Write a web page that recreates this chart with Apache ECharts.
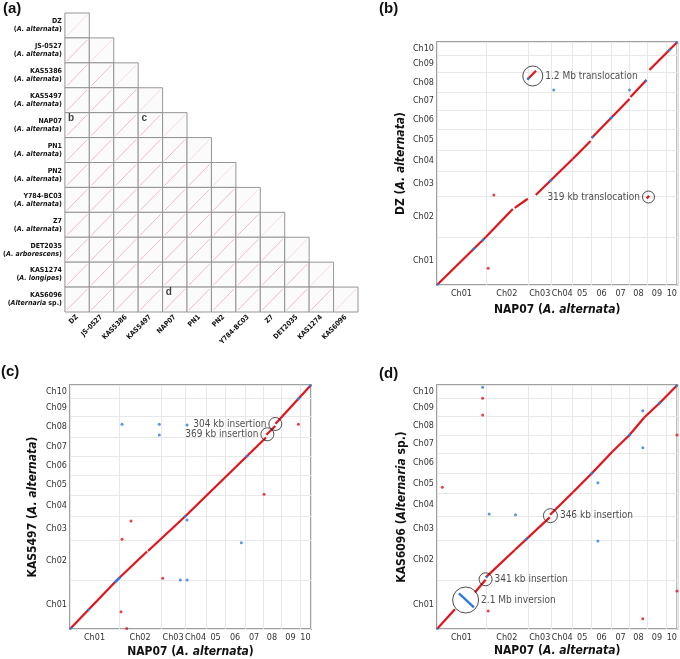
<!DOCTYPE html>
<html lang="en">
<head>
    <meta charset="utf-8">
    <title>Dotplots NAP07</title>
    <script src="https://cdn.jsdelivr.net/npm/echarts@6/dist/echarts.min.js"></script>
    <style>
        html, body { margin: 0; padding: 0; background: #fff; }
        #main { width: 680px; height: 659px; }
    </style>
</head>
<body>
<div id="main"></div>
<script type="text/javascript">
    var FONT = "'Liberation Sans Narrow','Arial Narrow','DejaVu Sans Condensed','Liberation Sans',sans-serif";
    var FONT_T = "'Liberation Sans',Arial,sans-serif";

    // ---- panel (a): all-vs-all grid ----
    var strains = ['DZ', 'JS-0527', 'KAS5386', 'KAS5497', 'NAP07', 'PN1', 'PN2', 'Y784-BC03', 'Z7', 'DET2035', 'KAS1274', 'KAS6096'];
    var species = ['A. alternata', 'A. alternata', 'A. alternata', 'A. alternata', 'A. alternata', 'A. alternata',
        'A. alternata', 'A. alternata', 'A. alternata', 'A. arborescens', 'A. longipes', 'Alternaria sp.'];
    var panelLetters = [['DZ', 'NAP07', 'b'], ['KAS5497', 'NAP07', 'c'], ['NAP07', 'KAS6096', 'd']];

    // ---- chromosome sizes (Mb) ----
    var chrLabels = ['Ch01', 'Ch02', 'Ch03', 'Ch04', 'Ch05', 'Ch06', 'Ch07', 'Ch08', 'Ch09', 'Ch10'];
    var nap07Labels = ['Ch01', 'Ch02', 'Ch03', 'Ch04', '05', '06', '07', '08', '09', '10'];
    var nap07Size = [6.76, 5.80, 3.31, 2.90, 2.62, 2.76, 2.48, 2.48, 2.62, 1.52];
    var dzSize = [6.62, 5.66, 3.38, 2.97, 2.90, 2.62, 2.48, 2.67, 2.44, 1.79];
    var kas5497Size = [6.76, 5.43, 3.31, 3.00, 2.75, 2.53, 2.67, 2.84, 2.54, 1.84];
    var kas6096Size = [6.76, 5.52, 3.22, 3.23, 2.76, 2.80, 2.48, 2.53, 2.54, 1.83];

    // axis titles: [plain, italic, plain]
    var nap07Name = ['NAP07 (', 'A. alternata', ')'];
    var dzName = ['DZ (', 'A. alternata', ')'];
    var kas5497Name = ['KAS5497 (', 'A. alternata', ')'];
    var kas6096Name = ['KAS6096 (', 'Alternaria', ' sp.)'];

    // ---- panel (b): DZ vs NAP07, segments [x1, y1, x2, y2] in Mb ----
    var bRed = [
        [0, 0, 6.76, 6.62], [6.76, 6.62, 10.49, 10.49], [10.76, 10.63, 12.56, 11.90],
        [13.66, 12.42, 18.77, 17.39], [18.77, 17.39, 21.25, 19.87], [21.39, 20.29, 26.63, 25.67],
        [26.77, 25.94, 28.98, 28.29], [29.39, 29.67, 33.25, 33.53],
        [12.50, 28.35, 13.70, 29.55], [29.00, 11.95, 29.35, 12.30]
    ];
    var bBlue = [
        [0, 0, 0.2, 0.2], [4.95, 4.84, 5.25, 5.14], [6.2, 6.07, 6.5, 6.37], [15.55, 14.26, 15.85, 14.55],
        [21.39, 20.29, 21.6, 20.5], [23.95, 22.92, 24.25, 23.23], [28.8, 28.1, 28.98, 28.29],
        [32.05, 32.33, 32.3, 32.58], [33.1, 33.38, 33.25, 33.53], [12.5, 28.35, 12.75, 28.6]
    ];
    var bRedDots = [[7.87, 12.42], [7.08, 2.30]];
    var bBlueDots = [[16.15, 26.91], [26.63, 26.91]];
    var bNotes = [[13.25, 28.84, '1.2 Mb translocation'], [29.26, 12.14, '319 kb translocation']];

    // ---- panel (c): KAS5497 vs NAP07 ----
    var cRed = [
        [0, 0, 6.49, 6.76], [6.49, 6.76, 10.63, 10.70], [10.76, 10.76, 15.87, 15.53],
        [15.87, 15.53, 27.05, 26.43], [27.09, 26.80, 28.33, 28.01], [28.36, 28.32, 33.25, 33.67]
    ];
    var cBlue = [
        [0, 0, 0.2, 0.2], [2.45, 2.55, 2.65, 2.76], [6.2, 6.45, 6.95, 7.15], [15.75, 15.42, 16.0, 15.66],
        [24.3, 23.75, 24.55, 24.0], [31.4, 31.65, 31.65, 31.92], [33.05, 33.45, 33.25, 33.67]
    ];
    var cRedDots = [[31.51, 28.25], [26.77, 18.59], [8.42, 14.90], [7.18, 12.38], [12.79, 7.0], [7.04, 2.39], [7.82, 0.08]];
    var cBlueDots = [[7.18, 28.25], [12.32, 28.25], [16.15, 28.15], [12.32, 26.77], [16.15, 15.04],
        [23.64, 11.91], [15.22, 6.76], [16.15, 6.76]];
    var cNotes = [[28.33, 28.29, '304 kb insertion'], [27.23, 26.87, '369 kb insertion']];

    // ---- panel (d): KAS6096 vs NAP07 ----
    var dRed = [
        [0, 0, 2.48, 2.72], [5.24, 5.04, 6.72, 6.79], [6.75, 7.13, 10.76, 10.90], [10.76, 10.90, 15.59, 15.41],
        [15.64, 15.77, 18.81, 18.86], [18.81, 18.86, 21.43, 21.49], [21.43, 21.49, 24.25, 24.47],
        [24.25, 24.47, 26.63, 26.77], [26.63, 26.77, 28.70, 29.21], [28.70, 29.21, 30.77, 31.15],
        [30.77, 31.15, 33.25, 33.67]
    ];
    var dBlue = [
        [3.04, 4.93, 5.11, 2.99], [0, 0, 0.15, 0.16], [12.25, 12.28, 12.5, 12.53], [6.8, 7.15, 6.95, 7.32],
        [21.3, 21.36, 21.55, 21.61], [26.5, 26.63, 26.75, 26.9], [30.65, 31.03, 30.9, 31.3], [33.05, 33.45, 33.25, 33.67]
    ];
    var dRedDots = [[6.31, 31.84], [6.31, 29.53], [33.2, 26.77], [0.73, 19.55], [33.2, 5.24], [7.08, 2.48], [28.47, 1.42]];
    var dBlueDots = [[6.31, 33.36], [28.47, 30.13], [28.47, 25.02], [22.26, 20.19], [7.22, 15.87], [10.86, 15.77], [22.26, 12.14]];
    var dNotes = [[15.69, 15.64, '346 kb insertion'], [6.72, 6.86, '341 kb insertion'], [3.96, 4.0, '2.1 Mb inversion']];

    var RED = '#e0141a', BLUE = '#2d7be0';

    function richName(parts, size) {
        return {
            text: '{b|' + parts[0] + '}{i|' + parts[1] + '}{b|' + parts[2] + '}',
            style: {
                rich: {
                    b: {fontWeight: 'bold', fontSize: size, fontFamily: FONT, color: '#111'},
                    i: {fontWeight: 'bold', fontStyle: 'italic', fontSize: size, fontFamily: FONT, color: '#111'}
                }
            }
        };
    }

    function chromAxis(gridIndex, sizes, labels, nameParts, isY, gap) {
        var edges = [0], mids = [];
        for (var i = 0; i < sizes.length; i++) {
            mids.push(edges[i] + sizes[i] / 2);
            edges.push(+(edges[i] + sizes[i]).toFixed(3));
        }
        var nm = richName(nameParts, 12);
        return {
            type: 'value', gridIndex: gridIndex, min: 0, max: edges[edges.length - 1],
            name: nm.text, nameLocation: 'middle', nameGap: gap, nameRotate: isY ? 90 : 0,
            nameTextStyle: nm.style,
            axisLine: {show: false},
            axisTick: {show: false, customValues: edges},
            axisLabel: {
                customValues: mids, fontSize: 9, color: '#333', fontFamily: FONT, margin: isY ? 3 : 4,
                formatter: function (v) {
                    var best = 0;
                    for (var k = 1; k < mids.length; k++) {
                        if (Math.abs(mids[k] - v) < Math.abs(mids[best] - v)) best = k;
                    }
                    return labels[best];
                }
            },
            splitLine: {show: true, lineStyle: {color: '#e8e8e8', width: 1}}
        };
    }

    function panelSeries(k, red, blue, redDots, blueDots, notes, sizes, sides) {
        function segs(list) {
            return list.map(function (s) { return {coords: [[s[0], s[1]], [s[2], s[3]]]}; });
        }
        return [
            {type: 'lines', coordinateSystem: 'cartesian2d', xAxisIndex: k, yAxisIndex: k, silent: true, z: 3,
                data: segs(red), lineStyle: {color: RED, width: 2.2, opacity: 1}},
            {type: 'lines', coordinateSystem: 'cartesian2d', xAxisIndex: k, yAxisIndex: k, silent: true, z: 4,
                data: segs(blue), lineStyle: {color: BLUE, width: 2.4, opacity: 1}},
            {type: 'scatter', xAxisIndex: k, yAxisIndex: k, symbolSize: 3, z: 4, silent: true,
                itemStyle: {color: RED}, data: redDots},
            {type: 'scatter', xAxisIndex: k, yAxisIndex: k, symbolSize: 3, z: 4, silent: true,
                itemStyle: {color: BLUE}, data: blueDots},
            {type: 'scatter', xAxisIndex: k, yAxisIndex: k, z: 5, silent: true,
                itemStyle: {color: 'rgba(255,255,255,0)', borderColor: '#222', borderWidth: 1},
                data: notes.map(function (n, i) {
                    return {
                        value: [n[0], n[1]], name: n[2], symbolSize: sizes[i],
                        label: {show: true, position: sides[i], distance: 2, formatter: '{b}',
                            fontSize: 10, color: '#222', fontFamily: FONT}
                    };
                })}
        ];
    }

    // lower-triangle cells [col, row]
    var cells = [];
    strains.forEach(function (r, ri) {
        for (var ci = 0; ci <= ri; ci++) cells.push([ci, ri]);
    });

    var rowRich = {
        n: {fontWeight: 'bold', fontSize: 7, fontFamily: FONT, color: '#111', lineHeight: 8},
        p: {fontWeight: 'bold', fontSize: 7, fontFamily: FONT, color: '#111', lineHeight: 8},
        i: {fontWeight: 'bold', fontStyle: 'italic', fontSize: 7, fontFamily: FONT, color: '#111', lineHeight: 8}
    };

    var chart = echarts.init(document.getElementById('main'), null, {renderer: 'canvas'});
    var option = {
        animation: false,
        backgroundColor: '#fff',
        title: [
            {text: '(a)', left: 3, top: 1, padding: 0, textStyle: {fontSize: 15, fontWeight: 'bold', fontFamily: FONT_T, color: '#111'}},
            {text: '(b)', left: 379, top: 1, padding: 0, textStyle: {fontSize: 15, fontWeight: 'bold', fontFamily: FONT_T, color: '#111'}},
            {text: '(c)', left: 1, top: 364, padding: 0, textStyle: {fontSize: 15, fontWeight: 'bold', fontFamily: FONT_T, color: '#111'}},
            {text: '(d)', left: 379, top: 366, padding: 0, textStyle: {fontSize: 15, fontWeight: 'bold', fontFamily: FONT_T, color: '#111'}}
        ],
        grid: [
            {left: 60, top: 13, width: 298, height: 299, show: false},
            {left: 437, top: 42, width: 241, height: 243, show: true, borderColor: '#a0a0a0', borderWidth: 2, backgroundColor: '#fff'},
            {left: 70, top: 385, width: 241, height: 244, show: true, borderColor: '#a0a0a0', borderWidth: 2, backgroundColor: '#fff'},
            {left: 437, top: 385, width: 241, height: 244, show: true, borderColor: '#a0a0a0', borderWidth: 2, backgroundColor: '#fff'}
        ],
        xAxis: [
            {type: 'category', gridIndex: 0, data: strains, axisLine: {show: false}, axisTick: {show: false},
                splitLine: {show: false},
                axisLabel: {interval: 0, rotate: 45, margin: 4, fontSize: 7, fontWeight: 'bold', fontFamily: FONT, color: '#111'}},
            chromAxis(1, nap07Size, nap07Labels, nap07Name, false, 19),
            chromAxis(2, nap07Size, nap07Labels, nap07Name, false, 17),
            chromAxis(3, nap07Size, nap07Labels, nap07Name, false, 16)
        ],
        yAxis: [
            {type: 'category', gridIndex: 0, data: strains, inverse: true, axisLine: {show: false}, axisTick: {show: false},
                splitLine: {show: false},
                axisLabel: {interval: 0, margin: 3, rich: rowRich,
                    formatter: function (v) {
                        var sp = species[strains.indexOf(v)];
                        var sub = sp === 'Alternaria sp.' ? '{p|(}{i|Alternaria}{p| sp.)}' : '{p|(}{i|' + sp + '}{p|)}';
                        return '{n|' + v + '}\n' + sub;
                    }}},
            chromAxis(1, dzSize, chrLabels, dzName, true, 30),
            chromAxis(2, kas5497Size, chrLabels, kas5497Name, true, 31),
            chromAxis(3, kas6096Size, chrLabels, kas6096Name, true, 29)
        ],
        series: [
            {
                type: 'custom', xAxisIndex: 0, yAxisIndex: 0, silent: true, data: cells,
                renderItem: function (params, api) {
                    var c = api.coord([api.value(0), api.value(1)]);
                    var s = api.size([1, 1]);
                    var x0 = c[0] - s[0] / 2, y0 = c[1] - s[1] / 2;
                    var self = api.value(0) === api.value(1);
                    return {
                        type: 'group', children: [
                            {type: 'rect', shape: {x: x0, y: y0, width: s[0], height: s[1]},
                                style: {fill: '#fbfbfb', stroke: '#8a8a8a', lineWidth: 0.9}},
                            {type: 'line', shape: {x1: x0 + 2, y1: y0 + s[1] - 2, x2: x0 + s[0] - 2, y2: y0 + 2},
                                style: {stroke: self ? 'rgba(235,140,165,0.5)' : 'rgba(215,70,105,0.6)', lineWidth: 0.6}}
                        ]
                    };
                }
            },
            {
                type: 'scatter', xAxisIndex: 0, yAxisIndex: 0, symbolSize: 0, silent: true, z: 5,
                data: panelLetters.map(function (p) { return {value: [p[0], p[1]], name: p[2]}; }),
                label: {show: true, position: 'inside', offset: [-6, -7], formatter: '{b}',
                    fontSize: 10, fontWeight: 'bold', fontFamily: FONT_T, color: '#111'}
            }
        ]
            .concat(panelSeries(1, bRed, bBlue, bRedDots, bBlueDots, bNotes, [20, 12], ['right', 'left']))
            .concat(panelSeries(2, cRed, cBlue, cRedDots, cBlueDots, cNotes, [13, 13], ['left', 'left']))
            .concat(panelSeries(3, dRed, dBlue, dRedDots, dBlueDots, dNotes, [14, 13, 26], ['right', 'right', 'right']))
    };
    chart.setOption(option);
</script>
</body>
</html>
